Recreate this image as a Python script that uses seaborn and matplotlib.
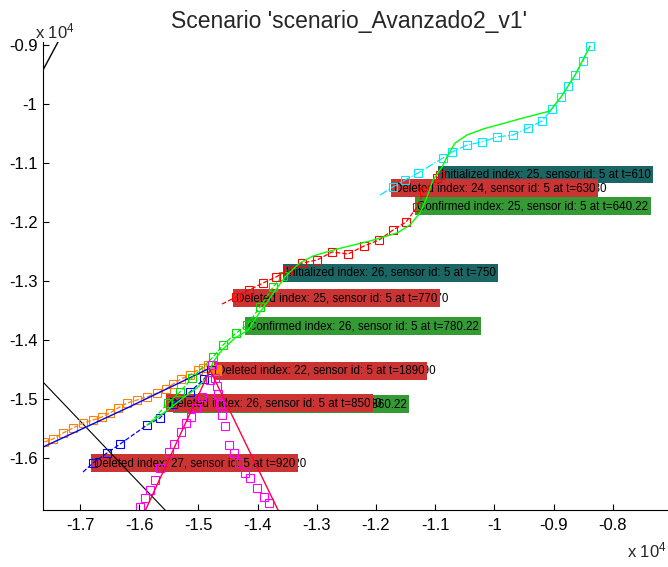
import matplotlib
matplotlib.use("Agg")
import matplotlib.pyplot as plt
from matplotlib.transforms import offset_copy
import seaborn as sns

# ---------------- data (raw units, axes show x 10^4) ----------------
truth_x = [-15868, -15564, -15260, -15024, -14855, -14753, -14601, -14382, -14162, -13959,
           -13791, -13672, -13537, -13419, -13284, -13064, -12659, -12101, -11645, -11426,
           -11257, -11138, -11037, -10885, -10784, -10665, -10463, -10193, -9517, -9061,
           -8875, -8638, -8385]
truth_y = [-15441, -15220, -14983, -14814, -14627, -14373, -14169, -13966, -13831, -13525,
           -13288, -13119, -12932, -12814, -12695, -12576, -12458, -12322, -12186, -12051,
           -11847, -11576, -11288, -11068, -10864, -10661, -10525, -10424, -10237, -10119,
           -9881, -9509, -9017]

cyan_x = [-11932, -11713, -11510, -11290, -10868, -10716, -10463, -10209, -9956, -9686,
          -9432, -9196, -9027, -8875, -8757, -8638, -8503, -8385]
cyan_y = [-11542, -11407, -11288, -11170, -10915, -10814, -10695, -10644, -10559, -10525,
          -10407, -10288, -10085, -9881, -9695, -9509, -9271, -9017]

red_x = [-14601, -14365, -14145, -13909, -13689, -13486, -13250, -12997, -12743, -12473,
         -12203, -11949, -11713, -11493, -11307, -11189, -10970, -10919]
red_y = [-13390, -13271, -13153, -13034, -12932, -12814, -12695, -12644, -12508, -12542,
         -12407, -12305, -12136, -12000, -11746, -11492, -11254, -11203]

green_x = [-15818, -15514, -15311, -15108, -14753, -14584, -14365, -14179, -13959, -13740, -13571]
green_y = [-15407, -15068, -14881, -14644, -14288, -14085, -13881, -13746, -13441, -13102, -12915]

orange_x = [-17600, -17456, -17287, -17118, -16949, -16780, -16628, -16493, -16358, -16206,
            -16037, -15868, -15699, -15547, -15429, -15294, -15142, -15007, -14922, -14838]
orange_y = [-15729, -15678, -15576, -15492, -15407, -15356, -15305, -15237, -15153, -15068,
            -15017, -14966, -14898, -14831, -14746, -14661, -14593, -14508, -14475, -14424]
orange_end_x = [-14703]
orange_end_y = [-14508]

blue_line_x = [-17625, -16206, -14804]
blue_line_y = [-15814, -15153, -14475]

blue_x = [-16949, -16780, -16544, -16324, -15868, -15649, -15429, -15142, -14905, -14787]
blue_y = [-16237, -16085, -15915, -15763, -15441, -15322, -15085, -14881, -14661, -14508]

# two diverging tracks (magenta estimates, red truth)
mag_left_x = [-14770, -14804, -14939, -15041, -15125, -15209, -15294, -15412, -15497, -15649,
              -15733, -15818, -15902, -15986]
mag_left_y = [-14424, -14678, -14966, -15153, -15305, -15407, -15559, -15763, -15898, -16169,
              -16373, -16542, -16678, -16830]
mag_right_x = [-14720, -14686, -14669, -14635, -14601, -14550, -14483, -14398, -14314, -14213,
               -14128, -14010, -13892, -13808]
mag_right_y = [-14644, -14780, -14915, -15085, -15271, -15458, -15780, -15915, -16085, -16254,
               -16339, -16508, -16661, -16763]
truth_left_x = [-14804, -15909]
truth_left_y = [-14508, -16915]
truth_right_x = [-14804, -13639]
truth_right_y = [-14508, -16915]

black1_x = [-18000, -15400]
black1_y = [-14318, -17053]
black2_x = [-17700, -17300]
black2_y = [-9565, -8814]

label_text = [
    "Initialized index: 25, sensor id: 5 at t=610",
    "Deleted index: 24, sensor id: 5 at t=630",
    "Confirmed index: 25, sensor id: 5 at t=640.22",
    "Initialized index: 26, sensor id: 5 at t=750",
    "Deleted index: 25, sensor id: 5 at t=770",
    "Confirmed index: 26, sensor id: 5 at t=780.22",
    "Deleted index: 22, sensor id: 5 at t=1890",
    "Confirmed index: 27, sensor id: 5 at t=860.22",
    "Deleted index: 26, sensor id: 5 at t=850",
    "Deleted index: 27, sensor id: 5 at t=920",
]
label_x = [-10902, -11696, -11307, -13520, -14365, -14162, -14686, -15378, -15497, -16764]
label_y = [-11195, -11424, -11729, -12864, -13288, -13763, -14525, -15085, -15068, -16085]
label_kind = ["init", "del", "conf", "init", "del", "conf", "del", "conf", "del", "del"]

x_ticks = [-17000, -16000, -15000, -14000, -13000, -12000, -11000, -10000, -9000, -8000]
y_ticks = [-16000, -15000, -14000, -13000, -12000, -11000, -10000, -9000]

# ---------------- styling ----------------
sns.set_style("ticks")
plt.rcParams['font.family'] = ['Liberation Sans', 'DejaVu Sans']
plt.rcParams['axes.unicode_minus'] = False
plt.rcParams['mathtext.default'] = 'regular'

fig = plt.figure(figsize=(6.68, 5.67), dpi=100)
ax = fig.add_axes([43/668, 57/567, 625/668, 468/567])

box_col = {"init": "#1b6565", "del": "#cc3434", "conf": "#349a34"}
FS = 8.3

for i, (t, x, y, k) in enumerate(zip(label_text, label_x, label_y, label_kind)):
    if k == "del":
        tr = offset_copy(ax.transData, fig=fig, x=11, y=0, units='dots')
        ax.text(x, y, t, transform=tr, fontsize=FS, color='black', ha='left', va='center',
                zorder=1, clip_on=False)
    ax.text(x, y, t, fontsize=FS, color='black', ha='left', va='center', zorder=1,
            bbox=dict(boxstyle='square,pad=0.22', facecolor=box_col[k], edgecolor='none'))

mk = dict(marker='s', markerfacecolor='none', markersize=5.4, markeredgewidth=0.8)
lw = 0.9

sns.lineplot(x=black1_x, y=black1_y, sort=False, estimator=None, color='black', linewidth=0.8, ax=ax)
sns.lineplot(x=black2_x, y=black2_y, sort=False, estimator=None, color='black', linewidth=1.0, ax=ax)

sns.lineplot(x=orange_x, y=orange_y, sort=False, estimator=None, color='#ff8000', linestyle='--',
             linewidth=lw, markeredgecolor='#ff8000', ax=ax, **mk)
sns.lineplot(x=orange_end_x, y=orange_end_y, sort=False, estimator=None, color='#ff8000',
             marker='s', markersize=6.5, markerfacecolor='#ff8000', markeredgecolor='#ff8000',
             linestyle='none', ax=ax)
sns.lineplot(x=blue_line_x, y=blue_line_y, sort=False, estimator=None, color='#0000ff',
             linewidth=1.0, ax=ax)
sns.lineplot(x=blue_x, y=blue_y, sort=False, estimator=None, color='#0000ff', linestyle='--',
             linewidth=lw, markeredgecolor='#0000ff', markevery=list(range(1, len(blue_x))),
             ax=ax, **mk)
sns.lineplot(x=green_x, y=green_y, sort=False, estimator=None, color='#00ee00', linestyle='--',
             linewidth=lw, markeredgecolor='#00dd00', markevery=list(range(1, len(green_x))),
             ax=ax, **mk)
sns.lineplot(x=red_x, y=red_y, sort=False, estimator=None, color='#ff0000', linestyle='--',
             linewidth=lw, markeredgecolor='#ff0000', markevery=list(range(1, len(red_x))),
             ax=ax, **mk)
sns.lineplot(x=cyan_x, y=cyan_y, sort=False, estimator=None, color='#00e8ff', linestyle='-.',
             linewidth=lw, markeredgecolor='#00e8ff', markevery=list(range(1, len(cyan_x))),
             ax=ax, **mk)
sns.lineplot(x=truth_x, y=truth_y, sort=False, estimator=None, color='#00ff00', linewidth=1.0, ax=ax)

sns.lineplot(x=mag_left_x, y=mag_left_y, sort=False, estimator=None, color='#ff00ff',
             linestyle='none', markeredgecolor='#ff00ff', ax=ax, **mk)
sns.lineplot(x=mag_right_x, y=mag_right_y, sort=False, estimator=None, color='#ff00ff',
             linestyle='none', markeredgecolor='#ff00ff', ax=ax, **mk)
sns.lineplot(x=truth_left_x, y=truth_left_y, sort=False, estimator=None, color='#ff0040',
             linewidth=1.0, ax=ax)
sns.lineplot(x=truth_right_x, y=truth_right_y, sort=False, estimator=None, color='#ff0040',
             linewidth=1.0, ax=ax)

ax.set_xlim(-17625, -7068)
ax.set_ylim(-16881, -8949)
ax.set_xticks(x_ticks)
ax.set_yticks(y_ticks)
ax.set_xticklabels(["%g" % (v / 1e4) for v in x_ticks])
ax.set_yticklabels(["%g" % (v / 1e4) for v in y_ticks])
ax.tick_params(direction='in', length=4.5, width=0.8, labelsize=12, colors='black')
ax.tick_params(axis='x', pad=6)
ax.tick_params(axis='y', pad=4)
for s in ['top', 'right']:
    ax.spines[s].set_visible(False)
for s in ['left', 'bottom']:
    ax.spines[s].set_linewidth(0.8)
    ax.spines[s].set_color('black')
ax.set_xlabel('')
ax.set_ylabel('')

fig.text(35/668, 1 - 38/567, r'x 10$^4$', fontsize=12, ha='left', va='baseline')
fig.text(627/668, 1 - 557/567, r'x 10$^4$', fontsize=12, ha='left', va='baseline')
fig.text(349/668, 1 - 28/567, "Scenario 'scenario_Avanzado2_v1'", fontsize=16.5, ha='center',
         va='baseline')

fig.savefig("out.png", dpi=100)
